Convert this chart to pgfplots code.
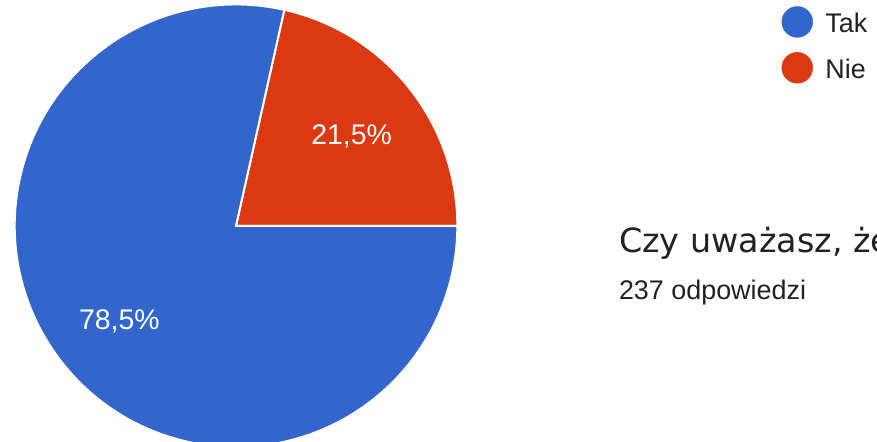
\documentclass[border=0pt]{standalone}
\usepackage{pgfplots}
\usepackage{pgfplotstable}
\pgfplotsset{compat=1.18}
\usepackage{fontspec}
\setmainfont{Liberation Sans}
\newfontfamily\titlefont{DejaVu Sans}
\definecolor{takblue}{HTML}{3366CC}
\definecolor{nieorange}{HTML}{DC3912}
\definecolor{txt}{HTML}{212121}

% answer shares in percent
\pgfplotstableread{
answer share
Tak 78.5
Nie 21.5
}\answers

\begin{document}
\pgfplotstablegetelem{0}{share}\of\answers \let\shareTak\pgfplotsretval
\pgfplotstablegetelem{1}{share}\of\answers \let\shareNie\pgfplotsretval
\pgfmathsetmacro{\angNie}{3.6*\shareNie}
\begin{tikzpicture}
\clip (0,0) rectangle (877pt,443pt);
\begin{axis}[
  hide axis,
  scale only axis,
  width=877pt, height=443pt,
  xmin=0, xmax=877, ymin=0, ymax=443,
  clip=false,
]
% slices, starting at 3 o'clock, counter-clockwise
\fill[nieorange, draw=white, line width=2pt]
  (axis cs:234,216.5) -- ++(0:222pt) arc[start angle=0, end angle=\angNie, radius=222pt] -- cycle;
\fill[takblue, draw=white, line width=2pt]
  (axis cs:234,216.5) -- ++(\angNie:222pt) arc[start angle=\angNie, end angle=360, radius=222pt] -- cycle;

\node[white, font=\fontsize{28.5}{32}\selectfont, anchor=base] at (axis cs:350,298) {21,5\%};
\node[white, font=\fontsize{28.5}{32}\selectfont, anchor=base] at (axis cs:117,112) {78,5\%};

% legend
\addplot[only marks, mark=*, mark size=15.5pt, takblue] coordinates {(797,421)};
\addplot[only marks, mark=*, mark size=15.5pt, nieorange] coordinates {(797,375)};
\node[txt, font=\fontsize{27}{30}\selectfont, anchor=base west, inner sep=0pt] at (axis cs:825,410) {Tak};
\node[txt, font=\fontsize{27}{30}\selectfont, anchor=base west, inner sep=0pt] at (axis cs:825,364) {Nie};

% title (runs past the right edge, as in the reference)
\node[txt, font=\titlefont\fontsize{33.5}{36}\selectfont, anchor=base west, inner sep=0pt] at (axis cs:618,190) {Czy uważasz, że};
\node[txt, font=\fontsize{27}{30}\selectfont, anchor=base west, inner sep=0pt] at (axis cs:618,143) {237 odpowiedzi};
\end{axis}
\end{tikzpicture}
\end{document}
